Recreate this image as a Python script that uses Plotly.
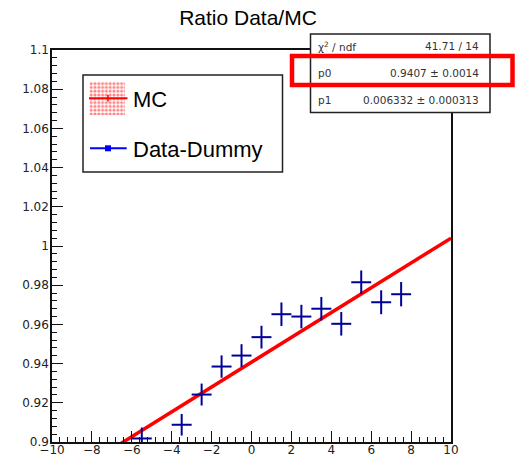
import plotly.graph_objects as go

# ---------------- data ----------------
bin_centers = [-5.5, -3.5, -2.5, -1.5, -0.5, 0.5, 1.5, 2.5, 3.5, 4.5, 5.5, 6.5, 7.5]
ratio = [0.9018, 0.9088, 0.9242, 0.9385, 0.9441, 0.9535, 0.9652, 0.9640,
         0.9680, 0.9603, 0.9815, 0.9713, 0.9754]
ratio_err = [0.0056, 0.0055, 0.0056, 0.0057, 0.0058, 0.0058, 0.0060, 0.0060,
             0.0060, 0.0060, 0.0060, 0.0061, 0.0062]
bin_half_width = [0.5] * len(bin_centers)

fit_p0, fit_p1 = 0.9407, 0.006332
fit_x = [-10, 10]
fit_y = [fit_p0 + fit_p1 * x for x in fit_x]

x_tickvals = [-10, -8, -6, -4, -2, 0, 2, 4, 6, 8, 10]
x_ticktext = ["\u221210", "\u22128", "\u22126", "\u22124", "\u22122", "0", "2", "4", "6", "8", "10"]
y_tickvals = [0.9, 0.92, 0.94, 0.96, 0.98, 1.0, 1.02, 1.04, 1.06, 1.08, 1.1]
y_ticktext = ["0.9", "0.92", "0.94", "0.96", "0.98", "1", "1.02", "1.04", "1.06", "1.08", "1.1"]

stats_names = ["\u03c7<sup>2</sup> / ndf", "p0", "p1"]
stats_values = ["41.71 / 14", "0.9407 \u00b1 0.0014", "0.006332 \u00b1 0.000313"]

legend_labels = ["MC", "Data-Dummy"]
title_text = "Ratio Data/MC"

# ---------------- layout helpers ----------------
W, H = 515, 460
ML, MR, MT, MB = 52, 64, 50, 18
PW, PH = W - ML - MR, H - MT - MB


def pxx(x):
    return (x - ML) / PW


def pyy(y):
    return (H - MB - y) / PH


DATA_COL = "#000099"
FONT = "Liberation Sans, Arial, sans-serif"
AX = "#111"

fig = go.Figure()

# fit line
fig.add_trace(go.Scatter(x=fit_x, y=fit_y, mode="lines",
                         line=dict(color="#ff0000", width=3.5),
                         showlegend=False, hoverinfo="skip"))

# data points with errors
fig.add_trace(go.Scatter(
    x=bin_centers, y=ratio, mode="markers",
    marker=dict(size=1, color=DATA_COL, opacity=0),
    error_x=dict(type="data", array=bin_half_width, color=DATA_COL, thickness=2, width=0),
    error_y=dict(type="data", array=ratio_err, color=DATA_COL, thickness=2, width=0),
    showlegend=False, cliponaxis=True))

# MC legend pattern swatch on small helper axes
fig.add_trace(go.Scatter(
    x=[0, 1, 1, 0, 0], y=[0, 0, 1, 1, 0], mode="lines", fill="toself",
    fillcolor="rgba(0,0,0,0)",
    fillpattern=dict(shape=".", fgcolor="#ff0000", bgcolor="white", size=3.8, solidity=0.5),
    line=dict(width=0, color="rgba(0,0,0,0)"),
    xaxis="x2", yaxis="y2", showlegend=False, hoverinfo="skip"))

shapes = []
# legend box
shapes.append(dict(type="rect", xref="paper", yref="paper",
                   x0=pxx(83), x1=pxx(282.5), y0=pyy(172), y1=pyy(75),
                   line=dict(color="#222", width=1.5), fillcolor="white", layer="below"))
# MC line
shapes.append(dict(type="line", xref="paper", yref="paper",
                   x0=pxx(89), x1=pxx(127.5), y0=pyy(98.3), y1=pyy(98.3),
                   line=dict(color="#ff0000", width=2), layer="above"))
shapes.append(dict(type="line", xref="paper", yref="paper",
                   x0=pxx(108), x1=pxx(108), y0=pyy(95), y1=pyy(101.6),
                   line=dict(color="#ff0000", width=1.5), layer="above"))
# Data legend line + marker
shapes.append(dict(type="line", xref="paper", yref="paper",
                   x0=pxx(90), x1=pxx(126.7), y0=pyy(148.3), y1=pyy(148.3),
                   line=dict(color="#0000ff", width=2), layer="above"))
shapes.append(dict(type="rect", xref="paper", yref="paper",
                   x0=pxx(105), x1=pxx(111), y0=pyy(151.3), y1=pyy(145.3),
                   line=dict(color="#0000ff", width=0), fillcolor="#0000ff", layer="above"))
# stats box
shapes.append(dict(type="rect", xref="paper", yref="paper",
                   x0=pxx(310.5), x1=pxx(490), y0=pyy(112.5), y1=pyy(34),
                   line=dict(color="#222", width=1.5), fillcolor="white", layer="above"))
# red highlight
shapes.append(dict(type="rect", xref="paper", yref="paper",
                   x0=pxx(292), x1=pxx(512.5), y0=pyy(85), y1=pyy(56),
                   line=dict(color="#ff0000", width=4.5), fillcolor="rgba(0,0,0,0)", layer="above"))

annotations = []
annotations.append(dict(text=legend_labels[0], xref="paper", yref="paper",
                        x=pxx(131), y=pyy(99), xanchor="left", yanchor="middle",
                        showarrow=False, font=dict(family=FONT, size=22, color="black")))
annotations.append(dict(text=legend_labels[1], xref="paper", yref="paper",
                        x=pxx(131), y=pyy(149), xanchor="left", yanchor="middle",
                        showarrow=False, font=dict(family=FONT, size=22, color="black")))
row_y = [46, 72.5, 99.5]
for name, val, ry in zip(stats_names, stats_values, row_y):
    annotations.append(dict(text=name, xref="paper", yref="paper",
                            x=pxx(316), y=pyy(ry), xanchor="left", yanchor="middle",
                            showarrow=False, font=dict(family="DejaVu Sans", size=10.5, color="#333")))
    annotations.append(dict(text=val, xref="paper", yref="paper",
                            x=pxx(481), y=pyy(ry), xanchor="right", yanchor="middle",
                            showarrow=False, font=dict(family="DejaVu Sans", size=10.5, color="#333")))

tickfont = dict(family="DejaVu Sans", size=12, color="#222")

fig.update_layout(
    width=W, height=H, autosize=False,
    margin=dict(l=ML, r=MR, t=MT, b=MB, pad=0, autoexpand=False),
    paper_bgcolor="white", plot_bgcolor="white",
    title=dict(text=title_text, x=248 / W, y=1 - 17.5 / H, xanchor="center", yanchor="middle",
               xref="container", yref="container",
               font=dict(family=FONT, size=21, color="black")),
    xaxis=dict(range=[-10, 10], tickmode="array", tickvals=x_tickvals, ticktext=x_ticktext,
               ticks="inside", ticklen=11, tickwidth=1.2, tickcolor=AX,
               minor=dict(dtick=0.4, tick0=-10, ticks="inside", ticklen=5.5, tickwidth=1.2, tickcolor=AX),
               showline=True, linecolor=AX, linewidth=1.5, mirror=True, automargin=False,
               ticklabelstandoff=-4,
               showgrid=False, zeroline=False, tickfont=tickfont, fixedrange=True),
    yaxis=dict(range=[0.9, 1.1], tickmode="array", tickvals=y_tickvals, ticktext=y_ticktext,
               ticks="inside", ticklen=11, tickwidth=1.2, tickcolor=AX,
               minor=dict(dtick=0.004, tick0=0.9, ticks="inside", ticklen=5.5, tickwidth=1.2, tickcolor=AX),
               showline=True, linecolor=AX, linewidth=1.5, mirror=True, automargin=False,
               ticklabelstandoff=-1,
               showgrid=False, zeroline=False, tickfont=tickfont, fixedrange=True),
    xaxis2=dict(domain=[pxx(89.3), pxx(125)], range=[0, 1], anchor="y2", visible=False, fixedrange=True),
    yaxis2=dict(domain=[pyy(115), pyy(81.7)], range=[0, 1], anchor="x2", visible=False, fixedrange=True),
    shapes=shapes, annotations=annotations,
    showlegend=False,
)

fig.write_html("out.html")
